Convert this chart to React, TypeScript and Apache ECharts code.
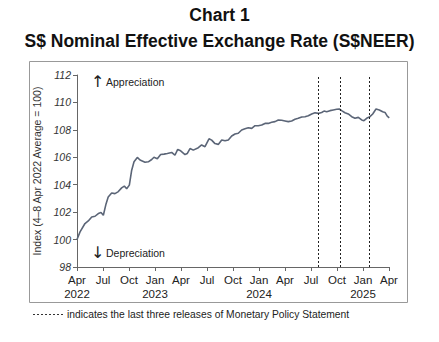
import React, { useEffect, useRef } from "react";
import * as echarts from "echarts";

// Months elapsed since 1 Apr 2022 for each traced observation
const monthsSinceApr2022 = [
  0, 0.35, 0.92, 1.3, 1.7, 2.08, 2.46, 2.77, 3.04, 3.35, 3.6, 4.0, 4.38, 4.77, 5.15, 5.46, 5.73, 6.04,
  6.31, 6.58, 6.96, 7.27, 7.85, 8.23, 8.62, 8.88, 9.27, 9.65, 10.04, 10.42, 10.92, 11.3, 11.62, 11.96,
  12.46, 12.73, 13.04, 13.42, 14.0, 14.38, 14.77, 15.23, 15.54, 15.92, 16.3, 16.7, 17.08, 17.46, 17.85,
  18.23, 18.61, 19.0, 19.38, 19.77, 20.16, 20.54, 20.92, 21.31, 21.69, 22.07, 22.46, 22.85, 23.23, 23.62,
  24.0, 24.38, 24.77, 25.15, 25.53, 25.93, 26.31, 26.69, 27.08, 27.46, 27.84, 28.23, 28.5, 28.81, 29.19,
  29.57, 29.96, 30.26, 30.54, 30.92, 31.3, 31.7, 32.08, 32.46, 32.85, 33.11, 33.42, 33.8, 34.12, 34.5,
  34.88, 35.27, 35.54, 35.8, 36.03,
];

const neerIndex = [
  100.0, 100.56, 101.17, 101.36, 101.65, 101.7, 101.9, 101.97, 101.77, 102.6, 103.1, 103.4, 103.35, 103.5,
  103.77, 103.9, 103.7, 103.97, 105.06, 105.67, 105.99, 105.8, 105.64, 105.67, 105.84, 106.0, 105.9, 106.2,
  106.23, 106.28, 106.35, 106.15, 106.57, 106.47, 106.2, 106.28, 106.64, 106.52, 106.7, 106.9, 106.77,
  107.35, 107.25, 107.0, 106.94, 107.26, 107.2, 107.26, 107.55, 107.7, 107.75, 107.99, 108.08, 108.16,
  108.11, 108.3, 108.3, 108.35, 108.47, 108.47, 108.55, 108.6, 108.72, 108.7, 108.65, 108.6, 108.65, 108.77,
  108.84, 108.94, 108.96, 109.03, 109.16, 109.25, 109.2, 109.27, 109.37, 109.32, 109.4, 109.45, 109.5,
  109.52, 109.4, 109.25, 109.16, 108.96, 108.84, 108.91, 108.72, 108.67, 108.84, 108.96, 109.16, 109.52,
  109.45, 109.32, 109.27, 109.0, 108.88,
];

// Release dates of the last three Monetary Policy Statements (months since 1 Apr 2022)
const mpsReleases = [27.8, 30.42, 33.74];

const xTickLabels = [
  "Apr\n2022", "Jul", "Oct", "Jan\n2023", "Apr", "Jul", "Oct", "Jan\n2024", "Apr", "Jul", "Oct", "Jan\n2025", "Apr",
];

const FONT = "'Liberation Sans', Arial, Helvetica, sans-serif";

export default function App() {
  const ref = useRef<HTMLDivElement>(null);

  useEffect(() => {
    if (!ref.current) return;
    const chart = echarts.init(ref.current, null, { renderer: "svg" });
    const data = monthsSinceApr2022.map((m, i) => [m, neerIndex[i]]);

    chart.setOption({
      animation: false,
      backgroundColor: "#ffffff",
      textStyle: { fontFamily: FONT },
      grid: { left: 77, top: 75, right: 50, bottom: 75 },
      xAxis: {
        type: "value",
        min: 0,
        max: 36,
        interval: 3,
        axisLine: { show: true, lineStyle: { color: "#666", width: 1 } },
        axisTick: { show: true, length: 4, lineStyle: { color: "#666" } },
        splitLine: { show: false },
        axisLabel: {
          color: "#222",
          fontSize: 11.5,
          lineHeight: 14,
          margin: 6,
          fontFamily: FONT,
          formatter: (v: number) => xTickLabels[Math.round(v / 3)] ?? "",
        },
      },
      yAxis: {
        type: "value",
        min: 98,
        max: 112,
        interval: 2,
        name: "Index (4–8 Apr 2022 Average = 100)",
        nameLocation: "middle",
        nameGap: 35,
        nameTextStyle: { color: "#333", fontSize: 10.5, fontFamily: FONT },
        axisLine: { show: true, lineStyle: { color: "#666", width: 1 } },
        axisTick: { show: true, length: 4, lineStyle: { color: "#666" } },
        splitLine: { show: false },
        axisLabel: {
          color: "#333",
          fontSize: 10.5,
          fontStyle: "italic",
          margin: 6,
          fontFamily: FONT,
        },
      },
      series: [
        {
          type: "line",
          data,
          symbol: "none",
          lineStyle: { color: "#5b6577", width: 1.6 },
          markLine: {
            silent: true,
            symbol: ["none", "none"],
            label: { show: false },
            lineStyle: { color: "#222", type: [2, 2], width: 1 },
            data: mpsReleases.map((m) => ({ xAxis: m })),
          },
        },
      ],
      graphic: [
        {
          type: "text",
          left: "center",
          top: 6,
          style: { text: "Chart 1", font: `bold 17.5px ${FONT}`, fill: "#111" },
        },
        {
          type: "text",
          left: "center",
          top: 32,
          style: {
            text: "S$ Nominal Effective Exchange Rate (S$NEER)",
            font: `bold 17.5px ${FONT}`,
            fill: "#111",
          },
        },
        {
          type: "rect",
          shape: { x: 29.5, y: 61.5, width: 378, height: 241 },
          style: { fill: "none", stroke: "#999", lineWidth: 1 },
        },
        {
          type: "text",
          x: 91,
          y: 73,
          style: { text: "↑", font: `16px 'DejaVu Sans', ${FONT}`, fill: "#222" },
        },
        {
          type: "text",
          x: 106,
          y: 76,
          style: { text: "Appreciation", font: `10.5px ${FONT}`, fill: "#222" },
        },
        {
          type: "text",
          x: 91,
          y: 244,
          style: { text: "↓", font: `16px 'DejaVu Sans', ${FONT}`, fill: "#222" },
        },
        {
          type: "text",
          x: 106,
          y: 247,
          style: { text: "Depreciation", font: `10.5px ${FONT}`, fill: "#222" },
        },
        {
          type: "line",
          shape: { x1: 33, y1: 314.5, x2: 63, y2: 314.5 },
          style: { stroke: "#333", lineWidth: 1, lineDash: [2, 2] },
        },
        {
          type: "text",
          x: 67,
          y: 309,
          style: {
            text: "indicates the last three releases of Monetary Policy Statement",
            font: `10.3px ${FONT}`,
            fill: "#222",
          },
        },
      ],
    });

    return () => chart.dispose();
  }, []);

  return <div ref={ref} style={{ width: 439, height: 342, margin: -8 }} />;
}
